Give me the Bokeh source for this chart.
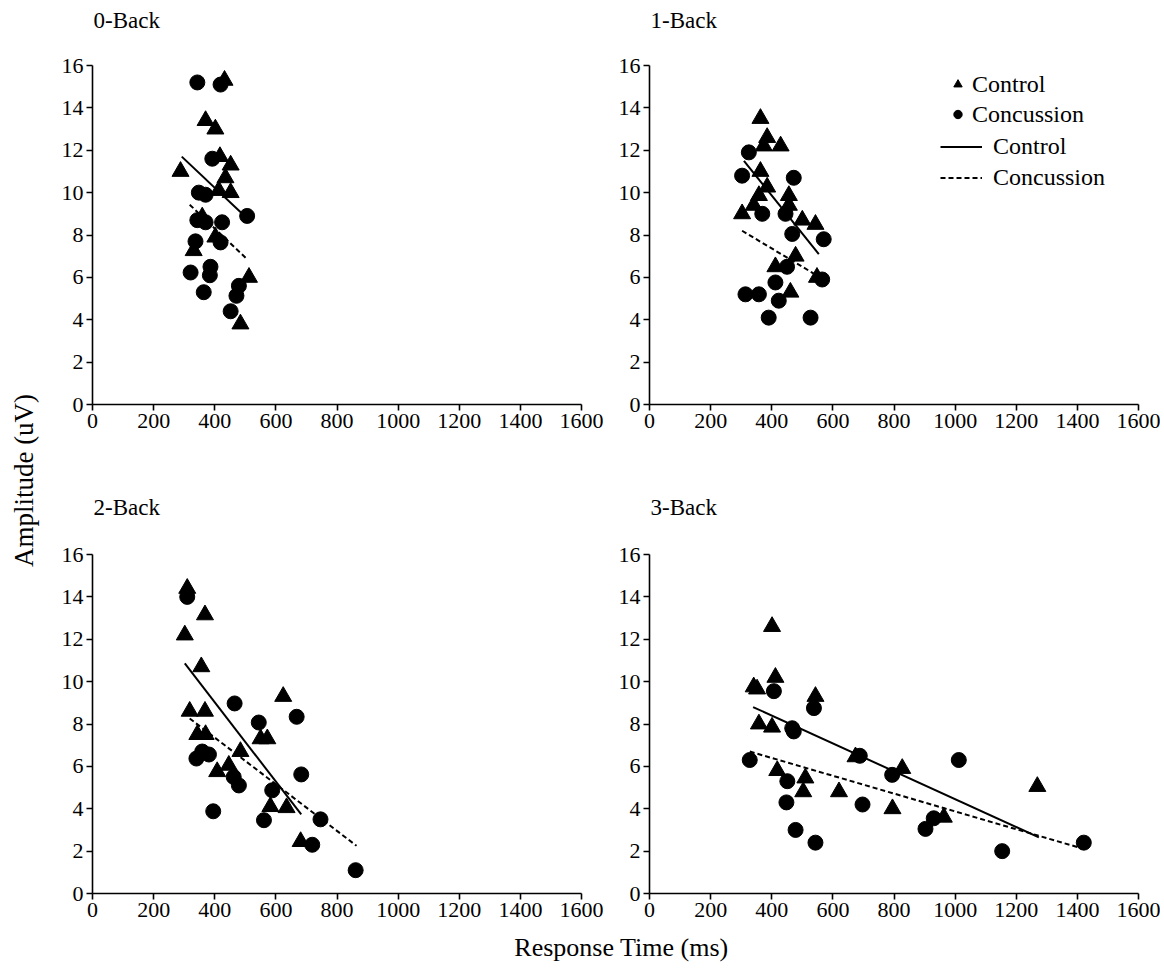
import math
from bokeh.plotting import figure
from bokeh.models import Range1d, Legend, LegendItem, Label
from bokeh.layouts import row, column
from bokeh.embed import file_html
from bokeh.resources import INLINE

FONT = "Liberation Serif"

# ---------------- data ----------------
panel_titles = ["0-Back", "1-Back", "2-Back", "3-Back"]
x_ticks = [0, 200, 400, 600, 800, 1000, 1200, 1400, 1600]
y_ticks = [0, 2, 4, 6, 8, 10, 12, 14, 16]
x_label = "Response Time (ms)"
y_label = "Amplitude (uV)"
legend_labels = ["Control", "Concussion"]

# 0-Back
back0_control_rt = [288, 370, 402, 432, 417, 452, 435, 452, 413, 359, 402, 331, 512, 484]
back0_control_amp = [11.0, 13.4, 13.0, 15.3, 11.7, 11.3, 10.7, 10.0, 10.1, 8.85, 7.9, 7.26, 6.0, 3.8]
back0_concussion_rt = [343, 419, 392, 348, 370, 506, 343, 370, 424, 419, 337, 321, 386, 384, 364, 479, 471, 452]
back0_concussion_amp = [15.2, 15.1, 11.6, 10.0, 9.9, 8.9, 8.7, 8.6, 8.6, 7.65, 7.7, 6.23, 6.5, 6.1, 5.3, 5.6, 5.13, 4.4]
back0_control_fit_rt = [292, 490]
back0_control_fit_amp = [11.7, 9.0]
back0_concussion_fit_rt = [318, 506]
back0_concussion_fit_amp = [9.43, 6.86]

# 1-Back
back1_control_rt = [363, 385, 374, 429, 363, 385, 358, 456, 341, 456, 303, 500, 543, 478, 412, 548, 461]
back1_control_amp = [13.5, 12.6, 12.2, 12.2, 11.0, 10.26, 9.86, 9.86, 9.4, 9.4, 9.0, 8.7, 8.5, 7.0, 6.5, 6.0, 5.3]
back1_concussion_rt = [325, 303, 472, 369, 445, 467, 570, 450, 565, 412, 314, 358, 423, 390, 527]
back1_concussion_amp = [11.9, 10.8, 10.7, 9.0, 9.0, 8.05, 7.8, 6.5, 5.9, 5.76, 5.2, 5.2, 4.9, 4.1, 4.1]
back1_control_fit_rt = [309, 554]
back1_control_fit_amp = [11.5, 7.1]
back1_concussion_fit_rt = [303, 570]
back1_concussion_fit_amp = [8.2, 5.9]

# 2-Back
back2_control_rt = [310, 368, 302, 356, 318, 368, 624, 550, 572, 343, 370, 484, 408, 446, 582, 635, 681]
back2_control_amp = [14.4, 13.15, 12.2, 10.7, 8.6, 8.6, 9.3, 7.3, 7.3, 7.5, 7.5, 6.7, 5.75, 6.05, 4.1, 4.05, 2.45]
back2_concussion_rt = [310, 465, 668, 544, 359, 381, 340, 462, 479, 588, 683, 395, 561, 746, 719, 861]
back2_concussion_amp = [14.0, 8.97, 8.34, 8.07, 6.7, 6.56, 6.37, 5.5, 5.1, 4.87, 5.62, 3.88, 3.46, 3.5, 2.3, 1.1]
back2_control_fit_rt = [302, 683]
back2_control_fit_amp = [10.86, 3.73]
back2_concussion_fit_rt = [318, 864]
back2_concussion_fit_amp = [8.26, 2.25]

# 3-Back
back3_control_rt = [401, 412, 341, 352, 543, 358, 401, 674, 827, 418, 510, 503, 620, 1269, 963, 795]
back3_control_amp = [12.6, 10.2, 9.75, 9.65, 9.3, 8.0, 7.85, 6.45, 5.9, 5.8, 5.45, 4.8, 4.8, 5.05, 3.6, 4.0]
back3_concussion_rt = [407, 538, 467, 472, 688, 328, 794, 451, 1012, 930, 903, 1154, 1421, 448, 478, 543, 697]
back3_concussion_amp = [9.55, 8.75, 7.8, 7.65, 6.5, 6.3, 5.6, 5.3, 6.3, 3.55, 3.05, 2.0, 2.4, 4.3, 3.0, 2.4, 4.2]
back3_control_fit_rt = [339, 1274]
back3_control_fit_amp = [8.8, 2.65]
back3_concussion_fit_rt = [328, 1410]
back3_concussion_fit_amp = [6.7, 2.15]

panel_data = [
    (back0_control_rt, back0_control_amp, back0_concussion_rt, back0_concussion_amp,
     back0_control_fit_rt, back0_control_fit_amp, back0_concussion_fit_rt, back0_concussion_fit_amp),
    (back1_control_rt, back1_control_amp, back1_concussion_rt, back1_concussion_amp,
     back1_control_fit_rt, back1_control_fit_amp, back1_concussion_fit_rt, back1_concussion_fit_amp),
    (back2_control_rt, back2_control_amp, back2_concussion_rt, back2_concussion_amp,
     back2_control_fit_rt, back2_control_fit_amp, back2_concussion_fit_rt, back2_concussion_fit_amp),
    (back3_control_rt, back3_control_amp, back3_concussion_rt, back3_concussion_amp,
     back3_control_fit_rt, back3_control_fit_amp, back3_concussion_fit_rt, back3_concussion_fit_amp),
]

# ---------------- layout constants ----------------
FRAME_W, FRAME_H = 489, 339
BORDER_L = 42
YLAB_W = 50
LEFT_W, RIGHT_W = 557, 553
TITLE_TOP_H, TITLE_BOT_H = 40, 50
TOP_BORDER_T, TOP_H = 25, 447      # frame 65..404 on the page
BOT_BORDER_T, BOT_H = 17, 393      # frame 554..893 on the page
XLAB_H = 35


def make_panel(idx, with_legend=False):
    top = idx < 2
    left = idx % 2 == 0
    width = LEFT_W if left else RIGHT_W
    height = TOP_H if top else BOT_H
    border_t = TOP_BORDER_T if top else BOT_BORDER_T
    p = figure(width=width, height=height,
               x_range=Range1d(0, 1600), y_range=Range1d(0, 16),
               output_backend="svg", toolbar_location=None,
               min_border_left=BORDER_L, min_border_right=width - BORDER_L - FRAME_W,
               min_border_top=border_t, min_border_bottom=height - border_t - FRAME_H)
    p.outline_line_color = None
    p.xgrid.visible = False
    p.ygrid.visible = False
    p.background_fill_color = "white"
    p.border_fill_color = "white"

    for ax in (p.xaxis, p.yaxis):
        ax.axis_line_width = 1.6
        ax.axis_line_color = "black"
        ax.major_tick_line_width = 1.6
        ax.major_tick_line_color = "black"
        ax.major_tick_out = 6
        ax.major_tick_in = 0
        ax.minor_tick_line_color = None
        ax.major_label_text_font = FONT
        ax.major_label_text_font_size = "22px"
        ax.major_label_text_color = "black"
        ax.major_label_standoff = 3
    p.xaxis.ticker = x_ticks
    p.yaxis.ticker = y_ticks

    (c_x, c_y, k_x, k_y, cf_x, cf_y, kf_x, kf_y) = panel_data[idx]
    r_tri = p.scatter(c_x, c_y, marker="triangle", size=17, color="black")
    r_circ = p.scatter(k_x, k_y, marker="circle", size=15, color="black")
    r_solid = p.line(cf_x, cf_y, line_color="black", line_width=2)
    r_dash = p.line(kf_x, kf_y, line_color="black", line_width=2, line_dash="5 3")

    if with_legend:
        common = dict(border_line_color=None, background_fill_alpha=0,
                      padding=0, margin=0, spacing=0,
                      label_text_font=FONT, label_text_font_size="24px",
                      label_text_color="black")
        leg1 = Legend(items=[LegendItem(label=legend_labels[0], renderers=[r_tri]),
                             LegendItem(label=legend_labels[1], renderers=[r_circ])],
                      location=(298, 275), glyph_width=21, glyph_height=30,
                      label_height=30, label_standoff=4, **common)
        leg2 = Legend(items=[LegendItem(label=legend_labels[0], renderers=[r_solid]),
                             LegendItem(label=legend_labels[1], renderers=[r_dash])],
                      location=(291, 211), glyph_width=42, glyph_height=31,
                      label_height=31, label_standoff=11, **common)
        p.add_layout(leg1)
        p.add_layout(leg2)
    return p


def text_fig(width, height, labels, size, angle=0.0, align="center"):
    f = figure(width=width, height=height, x_range=Range1d(0, 1), y_range=Range1d(0, 1),
               x_axis_location=None, y_axis_location=None,
               output_backend="svg", toolbar_location=None,
               min_border=0, min_border_left=0, min_border_right=0,
               min_border_top=0, min_border_bottom=0)
    f.outline_line_color = None
    f.xgrid.visible = False
    f.ygrid.visible = False
    for text, sx, sy in labels:
        f.add_layout(Label(x=sx, y=sy, x_units="screen", y_units="screen", text=text,
                           angle=angle, text_align=align, text_baseline="middle",
                           text_font=FONT, text_font_size=size, text_color="black"))
    return f


p0 = make_panel(0)
p1 = make_panel(1, with_legend=True)
p2 = make_panel(2)
p3 = make_panel(3)

GRID_W = LEFT_W + RIGHT_W
TOTAL_H = TITLE_TOP_H + TOP_H + TITLE_BOT_H + BOT_H + XLAB_H

title_top = text_fig(GRID_W, TITLE_TOP_H, [(panel_titles[0], BORDER_L + 1, 20),
                                            (panel_titles[1], LEFT_W + BORDER_L + 1, 20)],
                     "23px", align="left")
title_bot = text_fig(GRID_W, TITLE_BOT_H, [(panel_titles[2], BORDER_L + 1, 30),
                                            (panel_titles[3], LEFT_W + BORDER_L + 1, 30)],
                     "23px", align="left")
xlab = text_fig(GRID_W, XLAB_H, [(x_label, 571, 18)], "26px")
ylab = text_fig(YLAB_W, TOTAL_H, [(y_label, 23, TOTAL_H - 480)], "27px", angle=math.pi / 2)

grid = column(title_top, row(p0, p1, spacing=0), title_bot, row(p2, p3, spacing=0), xlab,
              spacing=0)
layout = row(ylab, grid, spacing=0)

open("out.html", "w").write(file_html(layout, INLINE))
